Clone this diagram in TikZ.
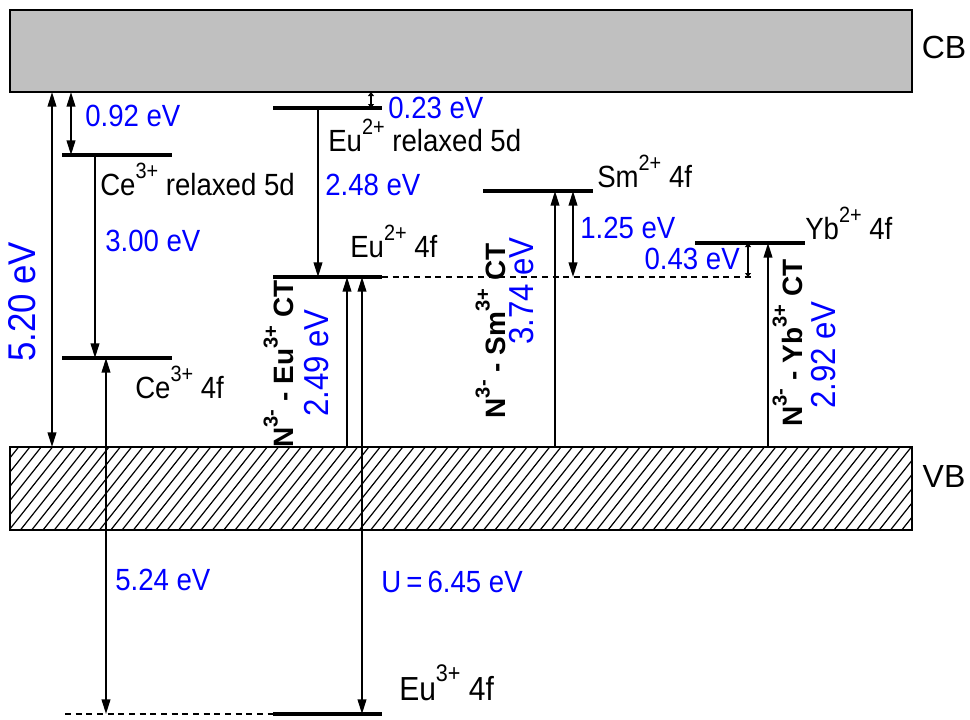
\documentclass[tikz,border=0pt]{standalone}
\usepackage{fontspec}
\usepackage{graphicx}
\setmainfont{Liberation Sans}[FakeStretch=0.9]
\newfontfamily\plainsans{Liberation Sans}
\usetikzlibrary{arrows.meta}
\definecolor{cbgray}{RGB}{192,192,192}
\definecolor{lblue}{RGB}{0,0,255}
\newcommand{\spr}[1]{\raisebox{0.55em}{\scalebox{0.72}{#1}}}
\begin{document}
\begin{tikzpicture}[x=0.75pt,y=-0.75pt,
  band/.style={draw=black,line width=1.8pt},
  hatch/.style={line width=0.9pt},
  lvl/.style={line width=3pt},
  dsh/.style={line width=1.8pt,dash pattern=on 4.5pt off 3.5pt},
  arr/.style={line width=1.4pt,-{Triangle[length=11pt,width=6.5pt]}},
  darr/.style={line width=1.4pt,{Triangle[length=11pt,width=6.5pt]}-{Triangle[length=11pt,width=6.5pt]}},
  sarr/.style={line width=1.1pt,{Triangle[length=3pt,width=4.5pt]}-{Triangle[length=3pt,width=4.5pt]}},
  lab/.style={inner sep=0pt,font=\fontsize{23}{26}\selectfont},
  blab/.style={lab,text=lblue},
  rlab/.style={inner sep=0pt,rotate=90,anchor=base,font=\fontsize{26}{30}\selectfont,text=lblue},
  ctlab/.style={inner sep=0pt,rotate=90,anchor=base,font=\plainsans\bfseries\fontsize{21}{24}\selectfont},
  bandlab/.style={inner sep=0pt,font=\plainsans\fontsize{24}{28}\selectfont}
]
\useasboundingbox (0,0) rectangle (970,719);

% bands
\coordinate (cbnw) at (10,10);
\coordinate (cbse) at (912,92);
\coordinate (vbnw) at (10,447);
\coordinate (vbse) at (912,530);
\fill[cbgray] (cbnw) rectangle (cbse);
\begin{scope}
  \clip (vbnw) rectangle (vbse);
  \foreach \i in {0,...,86} \draw[hatch] ({\i*11.3-70},530) -- ++(66,-83);
\end{scope}
\draw[band] (cbnw) rectangle (cbse);
\draw[band] (vbnw) rectangle (vbse);
\node[bandlab] (cbl) at (944,47) {CB};
\node[bandlab] (vbl) at (944,476) {VB};

% levels
\coordinate (ce5dA) at (62,155);  \coordinate (ce5dB) at (172,155);
\coordinate (ce4fA) at (62,358);  \coordinate (ce4fB) at (172,358);
\coordinate (eu5dA) at (273,108); \coordinate (eu5dB) at (382,108);
\coordinate (eu4fA) at (273,277); \coordinate (eu4fB) at (382,277);
\coordinate (sm4fA) at (483,191); \coordinate (sm4fB) at (593,191);
\coordinate (yb4fA) at (695,243); \coordinate (yb4fB) at (805,243);
\coordinate (eu3A) at (65,714);   \coordinate (eu3M) at (273,714); \coordinate (eu3B) at (382,714);
\coordinate (dashE) at (752,277);
\draw[lvl] (ce5dA) -- (ce5dB);
\draw[lvl] (ce4fA) -- (ce4fB);
\draw[lvl] (eu5dA) -- (eu5dB);
\draw[lvl] (eu4fA) -- (eu4fB);
\draw[lvl] (sm4fA) -- (sm4fB);
\draw[lvl] (yb4fA) -- (yb4fB);
\draw[lvl] (eu3M) -- (eu3B);
\draw[dsh] (eu3A) -- (eu3M);
\draw[dsh] (eu4fB) -- (dashE);

% arrows
\coordinate (a520t) at (52,92);   \coordinate (a520b) at (52,447);
\coordinate (a092t) at (71,92);   \coordinate (a092b) at (71,155);
\coordinate (a300t) at (95,155);  \coordinate (a300b) at (95,358);
\coordinate (a524t) at (106,358); \coordinate (a524b) at (106,714);
\coordinate (a023t) at (371,92);  \coordinate (a023b) at (371,108);
\coordinate (a248t) at (318,108); \coordinate (a248b) at (318,277);
\coordinate (aeuct) at (347,277); \coordinate (aeucb) at (347,447);
\coordinate (aUt) at (362,277);   \coordinate (aUb) at (362,714);
\coordinate (asmt) at (555,191);  \coordinate (asmb) at (555,447);
\coordinate (a125t) at (573,191); \coordinate (a125b) at (573,277);
\coordinate (a043t) at (748,243); \coordinate (a043b) at (748,277);
\coordinate (aybt) at (768,243);  \coordinate (aybb) at (768,447);
\draw[darr] (a520t) -- (a520b);
\draw[darr] (a092t) -- (a092b);
\draw[arr] (a300t) -- (a300b);
\draw[darr] (a524t) -- (a524b);
\draw[sarr] (a023t) -- (a023b);
\draw[arr] (a248t) -- (a248b);
\draw[arr] (aeucb) -- (aeuct);
\draw[darr] (aUt) -- (aUb);
\draw[arr] (asmb) -- (asmt);
\draw[darr] (a125t) -- (a125b);
\draw[sarr] (a043t) -- (a043b);
\draw[arr] (aybb) -- (aybt);

% labels
\node[blab,anchor=base west] (l092) at (85,126) {0.92 eV};
\node[lab,anchor=base west] (lce5d) at (100,195) {Ce\spr{3+} relaxed 5d};
\node[blab,anchor=base west] (l300) at (105,251) {3.00 eV};
\node[lab,anchor=base west] (lce4f) at (135,398) {Ce\spr{3+} 4f};
\node[blab,anchor=base west] (l023) at (388,118) {0.23 eV};
\node[lab,anchor=base west] (leu5d) at (328,151) {Eu\spr{2+} relaxed 5d};
\node[blab,anchor=base west] (l248) at (325,195) {2.48 eV};
\node[lab,anchor=base west] (leu4f) at (350,257) {Eu\spr{2+} 4f};
\node[lab,anchor=base west] (lsm) at (597,187) {Sm\spr{2+} 4f};
\node[blab,anchor=base west] (l125) at (580,238) {1.25 eV};
\node[lab,anchor=base west] (lyb) at (805,239) {Yb\spr{2+} 4f};
\node[blab,anchor=base east] (l043) at (740,269) {0.43 eV};
\node[blab,anchor=base west] (l524) at (115,590) {5.24 eV};
\node[blab,anchor=base west] (lU) at (381,592) {U\,=\,6.45 eV};
\node[lab,anchor=base west,font=\fontsize{25}{28}\selectfont] (leu3) at (399,700) {Eu\spr{3+} 4f};

\node[rlab,font=\fontsize{29}{32}\selectfont] (l520) at (36,302) {5.20 eV};
\node[ctlab] (cteu) at (293,364) {N\spr{3-} - Eu\spr{3+} CT};
\node[rlab] (l249) at (328,363) {2.49 eV};
\node[ctlab] (ctsm) at (505,331) {N\spr{3-} - Sm\spr{3+} CT};
\node[rlab] (l374) at (533,291) {3.74 eV};
\node[ctlab] (ctyb) at (802,343) {N\spr{3-} - Yb\spr{3+} CT};
\node[rlab] (l292) at (835,355) {2.92 eV};
\end{tikzpicture}
\end{document}
